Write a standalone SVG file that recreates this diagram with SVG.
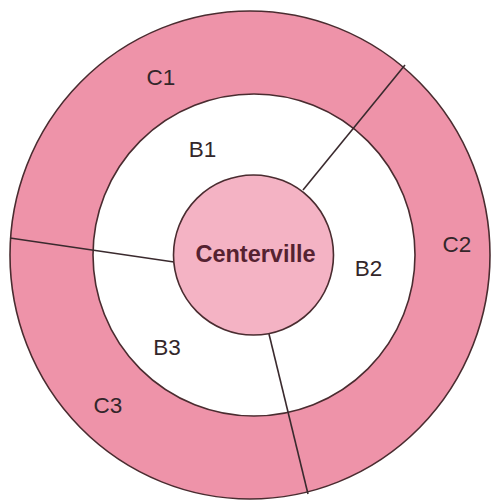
<svg xmlns="http://www.w3.org/2000/svg" width="491" height="501" viewBox="0 0 491 501">
<style>
.ring{fill:#ee93a9;stroke:#4a2c30;stroke-width:1.6}
.inner{fill:#ffffff;stroke:#4a2c30;stroke-width:1.6}
.core{fill:#f4b3c4;stroke:#4a2c30;stroke-width:1.6}
.lbl{font-family:"Liberation Sans",Arial,sans-serif;font-size:22.5px;fill:#33262a;text-anchor:middle}
.city{font-family:"Liberation Sans",Arial,sans-serif;font-size:23.5px;font-weight:bold;fill:#552231;text-anchor:middle}
.div{stroke:#3a2a2e;stroke-width:1.6;fill:none}
</style>
<rect width="491" height="501" fill="#ffffff"/>
<g id="outer-ring">
<ellipse class="ring" cx="250" cy="255" rx="240" ry="244"/>
</g>
<g id="inner-ring">
<circle class="inner" cx="254" cy="255" r="161"/>
</g>
<g id="connectors">
<line class="div" x1="303" y1="190" x2="405" y2="65"/>
<line class="div" x1="10" y1="238" x2="174" y2="262"/>
<line class="div" x1="269" y1="334" x2="308" y2="494"/>
</g>
<g id="centerville">
<circle class="core" cx="253.5" cy="255" r="80"/>
<text class="city" x="255.5" y="262">Centerville</text>
</g>
<g id="C1"><text class="lbl" x="161" y="85">C1</text></g>
<g id="C2"><text class="lbl" x="457" y="252">C2</text></g>
<g id="C3"><text class="lbl" x="108" y="413">C3</text></g>
<g id="B1"><text class="lbl" x="202.5" y="157">B1</text></g>
<g id="B2"><text class="lbl" x="368.5" y="276">B2</text></g>
<g id="B3"><text class="lbl" x="167" y="355">B3</text></g>
</svg>
